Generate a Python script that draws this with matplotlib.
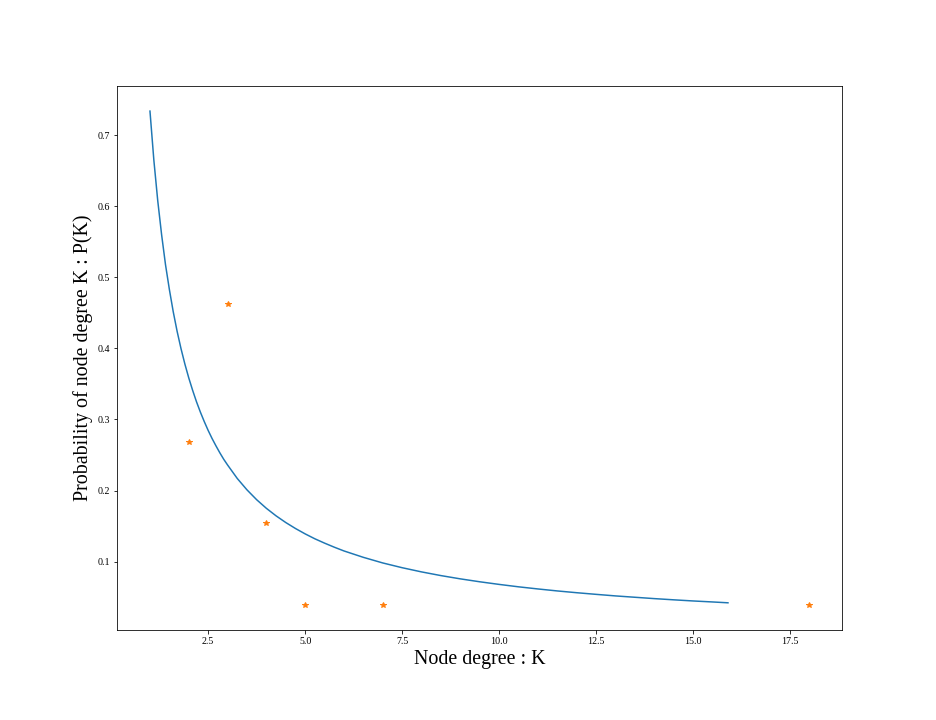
import matplotlib
matplotlib.use('Agg')
import matplotlib.pyplot as plt

plt.rcParams['font.family'] = ['Liberation Serif', 'DejaVu Serif']

# observed degree distribution
degrees = [2, 3, 4, 5, 7, 18]
probs = [0.269, 0.462, 0.154, 0.0385, 0.0385, 0.0385]

# fitted curve
fit_k = [1.0, 1.1, 1.2, 1.3, 1.4, 1.5, 1.6, 1.7, 1.8, 1.9, 2.0, 2.1, 2.2,
         2.3, 2.4, 2.5, 2.6, 2.7, 2.8, 2.9, 3.0, 3.25, 3.5, 3.75, 4.0,
         4.25, 4.5, 4.75, 5.0, 5.25, 5.5, 5.75, 6.0, 6.5, 7.0, 7.5, 8.0,
         8.5, 9.0, 9.5, 10.0, 10.5, 11.0, 11.5, 12.0, 12.5, 13.0, 13.5,
         14.0, 14.5, 15.0, 15.5, 15.9]
fit_p = [0.734, 0.665, 0.608, 0.560, 0.518, 0.483, 0.4515, 0.424, 0.3997,
         0.378, 0.3585, 0.341, 0.3248, 0.3103, 0.297, 0.2846, 0.2733,
         0.263, 0.2532, 0.2441, 0.236, 0.217, 0.201, 0.1871, 0.175,
         0.1644, 0.155, 0.1466, 0.139, 0.1321, 0.126, 0.1203, 0.115,
         0.106, 0.0981, 0.0914, 0.0855, 0.0803, 0.0757, 0.0716, 0.0679,
         0.0645, 0.0615, 0.0587, 0.0562, 0.0539, 0.0517, 0.0498, 0.0479,
         0.0462, 0.0446, 0.0432, 0.0420]

fig, ax = plt.subplots(figsize=(13, 10), dpi=72)
plt.subplots_adjust(left=0.125, right=0.9, bottom=0.125, top=0.88)

ax.plot(fit_k, fit_p, color='C0')
ax.plot(degrees, probs, '*', color='C1')

ax.set_xlabel('Node degree : K', fontsize=20)
ax.set_ylabel('Probability of node degree K : P(K)', fontsize=20)

plt.savefig('out.png', dpi=72)
